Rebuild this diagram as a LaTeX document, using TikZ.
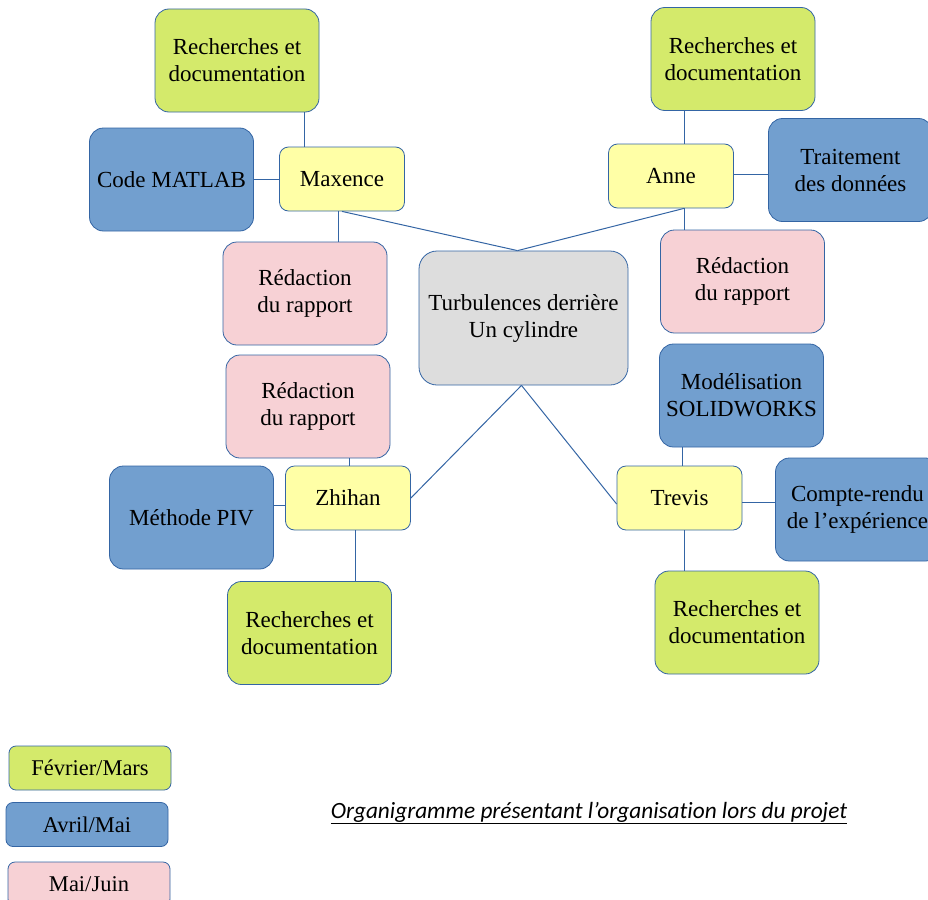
\documentclass[tikz,border=0pt]{standalone}
\usepackage{fontspec}
\setmainfont{Liberation Serif}
\newfontfamily\capfont[Ligatures=NoCommon]{Carlito}
\usetikzlibrary{calc}
\definecolor{cgreen}{HTML}{D4EA6B}
\definecolor{cblue}{HTML}{729FCF}
\definecolor{cyellow}{HTML}{FFFFA6}
\definecolor{cpink}{HTML}{F7D1D5}
\definecolor{cgray}{HTML}{DDDDDD}
\definecolor{cborder}{HTML}{3465A4}
\begin{document}
\begin{tikzpicture}[x=1pt,y=-1pt,
  box/.style={draw=cborder, line width=0.8pt, rounded corners=14pt, align=center,
    inner sep=0pt, font=\fontsize{23}{27}\selectfont},
  big/.style={box, minimum width=164pt, minimum height=103pt},
  person/.style={box, fill=cyellow, rounded corners=9pt, minimum width=125pt, minimum height=64pt},
  legend/.style={box, rounded corners=7pt, minimum width=162pt, minimum height=44pt,
    font=\fontsize{22.5}{26}\selectfont},
  link/.style={draw=cborder, line width=1pt}]
\useasboundingbox (0,0) rectangle (928,899);

% Maxence group
\node[big, fill=cgreen] (m1) at (237,60.5) {Recherches et\\documentation};
\node[big, fill=cblue] (matlab) at (171.5,179.5) {Code MATLAB};
\node[person] (max) at (342,179) {Maxence};
\node[big, fill=cpink] (red1) at (305,293.5) {Rédaction\\du rapport};

% center
\node[box, fill=cgray, minimum width=209pt, minimum height=134pt, rounded corners=18pt] (ctr) at (523.5,318) {Turbulences derrière\\Un cylindre};

% Anne group
\node[big, fill=cgreen] (a1) at (733,59) {Recherches et\\documentation};
\node[person] (anne) at (671,176) {Anne};
\node[big, fill=cblue] (trait) at (850.5,170) {Traitement\\des données};
\node[big, fill=cpink] (red3) at (742.5,281.5) {Rédaction\\du rapport};

% Zhihan group
\node[big, fill=cpink] (red2) at (308,406.5) {Rédaction\\du rapport};
\node[big, fill=cblue] (piv) at (191.5,517.5) {Méthode PIV};
\node[person] (zh) at (348,498) {Zhihan};
\node[big, fill=cgreen] (z1) at (309.5,633) {Recherches et\\documentation};

% Trevis group
\node[big, fill=cblue] (model) at (741.5,395.5) {Modélisation\\SOLIDWORKS};
\node[person] (tre) at (679.5,498) {Trevis};
\node[big, fill=cblue] (cr) at (857.5,509.5) {Compte-rendu\\de l’expérience};
\node[big, fill=cgreen] (t1) at (737,622.5) {Recherches et\\documentation};

% legend
\node[legend, fill=cgreen] (lg1) at (90,768) {Février/Mars};
\node[legend, fill=cblue] (lg2) at (87,824.5) {Avril/Mai};
\node[legend, fill=cpink] (lg3) at (89,884) {Mai/Juin};

\node[font=\capfont\fontsize{23.3}{27}\selectfont\itshape, inner sep=0pt] (cap) at (589,813)
  {\underline{Organigramme présentant l’organisation lors du projet}};

% connectors Maxence
\coordinate (c1) at ($(max.north)+(-38,0)$);
\draw[link] (c1) -- (c1 |- m1.south);
\draw[link] (matlab.east) -- (matlab.east -| max.west);
\coordinate (c3) at ($(max.south)+(-4,0)$);
\draw[link] (c3) -- (c3 |- red1.north);
\coordinate (ctop) at ($(ctr.north)+(-6,0)$);
\draw[link] (max.south) -- (ctop);

% connectors Anne
\coordinate (c5) at ($(anne.north)+(13,0)$);
\draw[link] (c5) -- (c5 |- a1.south);
\coordinate (c6) at ($(anne.east)+(0,-2)$);
\draw[link] (c6) -- (c6 -| trait.west);
\coordinate (c7) at ($(anne.south)+(13,0)$);
\draw[link] (c7) -- (c7 |- red3.north);
\draw[link] (c7) -- (ctop);

% connectors center bottom
\coordinate (cbot) at ($(ctr.south)+(-2,0)$);
\draw[link] (cbot) -- (zh.east);
\coordinate (c10) at ($(tre.west)+(0,6)$);
\draw[link] (cbot) -- (c10);

% connectors Zhihan
\coordinate (c11) at ($(zh.north)+(1,0)$);
\draw[link] (c11) -- (c11 |- red2.south);
\coordinate (c12) at ($(zh.west)+(0,7)$);
\draw[link] (c12) -- (c12 -| piv.east);
\coordinate (c13) at ($(zh.south)+(7,0)$);
\draw[link] (c13) -- (c13 |- z1.north);

% connectors Trevis
\coordinate (c14) at ($(tre.north)+(2.5,0)$);
\draw[link] (c14) -- (c14 |- model.south);
\coordinate (c15) at ($(tre.east)+(0,4)$);
\draw[link] (c15) -- (c15 -| cr.west);
\coordinate (c16) at ($(tre.south)+(4.5,0)$);
\draw[link] (c16) -- (c16 |- t1.north);
\end{tikzpicture}
\end{document}
